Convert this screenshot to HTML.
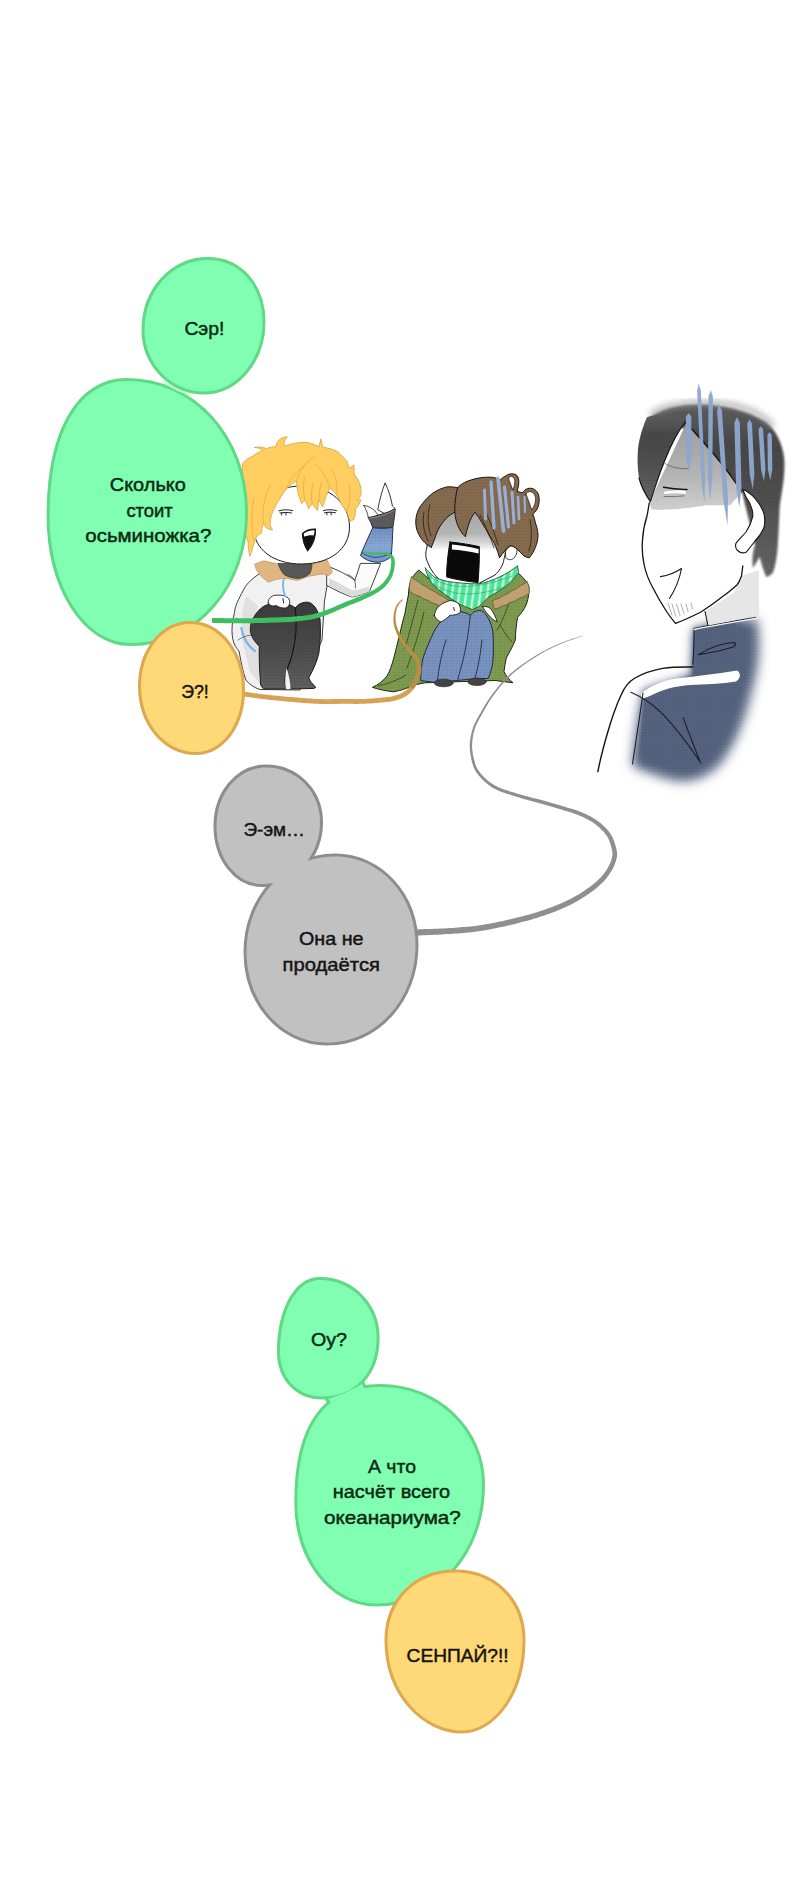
<!DOCTYPE html>
<html><head><meta charset="utf-8">
<style>
html,body{margin:0;padding:0;background:#fff;}
body{width:800px;height:1900px;overflow:hidden;font-family:"Liberation Sans",sans-serif;}
svg{display:block;}
.t{font-family:"Liberation Sans",sans-serif;stroke-width:0.45px;}
.tg{fill:#0c2a10;stroke:#0c2a10;}
.tk{fill:#141414;stroke:#141414;}
</style></head><body>
<svg width="800" height="1900" viewBox="0 0 800 1900">
<defs>
<filter id="b05" x="-10%" y="-10%" width="120%" height="120%"><feGaussianBlur stdDeviation="0.5"/></filter>
<filter id="b1" x="-10%" y="-10%" width="120%" height="120%"><feGaussianBlur stdDeviation="1"/></filter>
<filter id="b3" x="-20%" y="-20%" width="140%" height="140%"><feGaussianBlur stdDeviation="3"/></filter>
<filter id="b6" x="-30%" y="-30%" width="160%" height="160%"><feGaussianBlur stdDeviation="6"/></filter>
<pattern id="hatch" width="3" height="3" patternUnits="userSpaceOnUse"><path d="M0,0H3M0,0V3" stroke="#000" stroke-width=".5" opacity=".18"/></pattern>
</defs>
<rect width="800" height="1900" fill="#fff"/>
<!-- tails panel1 -->
<g id="char1" stroke-linejoin="round" stroke-linecap="round">
<!-- coat body -->
<path d="M259,574 C250,580 245,586 243.5,590 C238,600 235,606 234.5,612.5 C232,622 231.5,630 232.3,636 C233,643 236,648 239,651 C241,662 243,672 245.8,680 C250,685 255,688 260,689.5 L300,690 L322,640 L324.5,601 L329,574 Z" fill="#f1f1f1" stroke="#2a2a2a" stroke-width="0.9"/>
<path d="M246,596 C242,610 240,625 242,640 L250,672 L262,686 L262,640 L252,628 L258,606 Z" fill="#dcdcdc" opacity=".8"/>
<path d="M241.3,628 C243,638 248,646 254.8,651 " fill="none" stroke="#7fb2e8" stroke-width="2.2"/>
<path d="M236,618 C242,622 250,624 257,622 M238,640 C244,636 250,634 256,636" fill="none" stroke="#333" stroke-width=".6"/>
<!-- raised arm (white sleeve) -->
<path d="M327,566 C338,570 348,575 354.8,580.3 C356.8,574.5 358.8,569 360.4,563.4 L380.6,563.4 C377,573 373,582.5 369.4,591.5 C364,594 358,596 352,597 C343,594 335,590 327,585.5 Z" fill="#fbfbfb" stroke="#2a2a2a" stroke-width="0.9"/>
<path d="M329,578 C337,582 345,586.5 352,590 C358,590 364,588.5 369,586 L369.4,591.5 C364,594 358,596 352,597 L329,586 Z" fill="#dcdcdc"/>
<path d="M354.8,580.3 C353,577.5 350.5,575.5 348,574.5 M354.8,580.3 C355.3,583 355.6,585.5 355.5,588" fill="none" stroke="#2a2a2a" stroke-width=".7"/>
<!-- legs -->
<defs><linearGradient id="legs1" x1="0" y1="0" x2="0" y2="1"><stop offset="0" stop-color="#3c3c3c"/><stop offset=".5" stop-color="#4a4a4a"/><stop offset="1" stop-color="#606060"/></linearGradient></defs>
<path d="M275,603.5 C268,603 261,607 257,612.5 C252,619 250,625 250.3,630.5 C251,637 255,642 259.3,646.3 C259,658 259.5,670 260.4,680 C260,684 261,687 263.8,689 L286.3,689 C288,688.5 288.6,688.8 288.5,689 L312,688.5 C315,688.5 316,687.5 315.5,686.8 C312,684 310,681 308.8,677.8 C313,670 317,662 318.9,653 C320.5,642 320.8,630 320,619.3 C318,610 314,604 308.8,602.4 C303,601.5 298,604 295.3,608 C291,604 283,602.5 275,603.5 Z" fill="url(#legs1)" stroke="#1c1c1c" stroke-width="1"/>
<path d="M275,603.5 C268,603 261,607 257,612.5 C252,619 250,625 250.3,630.5 C251,637 255,642 259.3,646.3 C259,658 259.5,670 260.4,680 C260,684 261,687 263.8,689 L286.3,689 L312,688.5 C315,688.5 316,687.5 315.5,686.8 C312,684 310,681 308.8,677.8 C313,670 317,662 318.9,653 C320.5,642 320.8,630 320,619.3 C318,610 314,604 308.8,602.4 C303,601.5 298,604 295.3,608 C291,604 283,602.5 275,603.5 Z" fill="url(#hatch)"/>
<path d="M295.3,608 C297,622 296,640 292,655 C290,663 287.5,668 286.3,671 C285,676 284.5,683 286.3,689" fill="none" stroke="#141414" stroke-width="1.1"/>
<path d="M286.6,668 C289,675 290.5,683 290.5,689 L285.8,689 C284.8,682 285,675 286.6,668 Z" fill="#f2f2f2"/>
<!-- fist -->
<path d="M268.3,603 C268,598 272,595 277,595.2 C282,594.8 287,596 289,599 C290.5,602 289.5,606 287,607.5 C283,609 279,607 276,605.5 C273,606.5 270,606 268.3,603 Z" fill="#fff" stroke="#222" stroke-width="0.9"/>
<path d="M283,598.5 L283.6,603" stroke="#222" stroke-width="1" fill="none"/>
<!-- blue trim -->
<path d="M284,578 C282,584 283,590 285,596" fill="none" stroke="#86b6ea" stroke-width="2"/>
<!-- fur collar -->
<path d="M254.8,564 L263.8,560.8 L278.4,564 L312,564 L326.8,559.6 L330,566 L332.4,572 L329,575.6 L322,573.8 L315.5,575.2 L309,576.2 L297.5,580.4 L284,578.2 L276,579.5 L268.3,582.2 L263,578 L259.3,574.3 L256,569 Z" fill="#e0b580" stroke="#b98d58" stroke-width=".6"/>
<path d="M278.4,563.5 L312,563.5 C312,568 311,571 309.9,573.5 C306,577 301,578.5 297.5,578.4 C292,578.2 287,576.5 284,574.5 C281,571 279,567 278.4,563.5 Z" fill="#575757" stroke="#333" stroke-width=".7"/>
<!-- glove / sleeve / hand -->
<path d="M377.8,509.4 C379.5,500 382,491 385.1,482.9 C388.5,490 391,498 392.4,506 L395,508.6 L386,514 Z" fill="#fff" stroke="#222" stroke-width="0.9"/>
<path d="M363.8,505.4 C368,506 372,508 375,511 L378,515 C375,516.5 371.5,517.3 368.3,517.3 C367.5,513 366,509 363.8,505.4 Z" fill="#fff" stroke="#222" stroke-width="0.8"/>
<path d="M368.3,517.8 C371.8,517.3 375.2,516.3 378.4,515 C384.2,513.6 390,511.5 395.3,508.8 C394.8,514.8 394,520.8 393,526.8 C386.5,528.3 379.5,528.6 372.8,527.4 C371.9,525.9 371.3,524.4 371,522.9 C370,521.2 369,519.5 368.3,517.8 Z" fill="#5a5a5a" stroke="#262626" stroke-width=".9"/>
<path d="M369,518.4 C377.5,517.6 386.5,514.6 394.6,510.4" fill="none" stroke="#8a8a8a" stroke-width="1"/>
<defs><linearGradient id="slv" x1="0" y1="0" x2="0" y2="1"><stop offset="0" stop-color="#6f8fc0"/><stop offset=".55" stop-color="#88a8d8"/><stop offset="1" stop-color="#739dcf"/></linearGradient></defs>
<path d="M372.8,527.6 C379.5,528.8 386.5,528.5 393,527.2 C392.6,537 392,547 391.3,556.6 C387.5,559.8 383,561.8 378.4,562.3 C374.5,562.3 370.6,561.5 367.1,560 C364.6,558.8 362.3,557.3 360.4,555.5 C364.2,546 368.5,536.8 372.8,527.6 Z" fill="url(#slv)" stroke="#22375a" stroke-width="1"/>
<path d="M372.8,527.6 C379.5,528.8 386.5,528.5 393,527.2 C392.6,537 392,547 391.3,556.6 C387.5,559.8 383,561.8 378.4,562.3 C374.5,562.3 370.6,561.5 367.1,560 C364.6,558.8 362.3,557.3 360.4,555.5 C364.2,546 368.5,536.8 372.8,527.6 Z" fill="url(#hatch)" opacity=".7"/>
<path d="M361.6,552.4 C365,555 369.5,556.8 374,557.3 C380,557.5 386,556 391.5,553" fill="none" stroke="#22375a" stroke-width=".8"/>
<!-- face -->
<path d="M301.5,486 C331,486 349.5,504 349.5,527 C349.5,549 330,564 301.5,564 C273,564 253.5,549 253.5,527 C253.5,504 272,486 301.5,486 Z" fill="#fff" stroke="#1e1e1e" stroke-width="1"/>
<!-- hair -->
<path d="M249.9,556 C248.5,551 248,546 248.1,542 C245.5,534 243.5,526 242.9,517.5 C241.8,506 241.6,494 242,482.5 C241.8,476 242,469 242.9,463.3 C245.5,460 249,457.8 252.5,456.3 C256,453.8 259.5,451.6 263,450 C260.5,448.4 257.5,447.6 254.3,447.5 C258.5,446.6 263,447 266.5,448.6 C269.5,447.4 273,446.8 276,446.6 C276.5,443 278.3,440.2 280.5,438.8 C282.8,437.4 285.3,436.8 287.5,437 C285,438.6 283.8,441.8 284.2,445.2 L285.8,445.8 C292,443.6 298.5,442.4 305,442.3 C309.8,442.6 314.5,444.6 319,446.6 L320.8,438.8 L322.5,446.9 C327.5,447.8 332.3,449.2 336.5,451 C340.5,454 344,457.5 347,461.5 C347.9,463.8 348.5,466.1 348.8,468.5 L354,465 L354,473.8 C356.2,476.5 358,479.5 359.3,482.5 C360.8,486.5 361.4,490.6 361,494.8 C360.2,496.8 359,498.5 357.5,500 L361,500 C359.8,503.3 358,506.2 355.8,508.8 C355.6,512.4 355,515.9 354,519.3 C352.6,520.3 351.1,520.9 349.6,521 C349,518 348.1,515 347,512.3 C345.5,509.8 343.7,507.4 341.8,505.3 C340.2,501.6 338.5,498 336.5,494.8 C334.4,492 332,489.6 329.5,487.8 C328.6,490.8 327.4,493.7 326,496.5 C325,500.1 323.8,503.6 322.5,507 C321.5,504.6 320.3,502.3 319,500 C318.6,503.6 318,507.1 317.3,510.5 C315.5,508 313.7,505.6 312,503.5 C311,505.3 309.8,507.1 308.5,508.8 C307.6,505.8 306.4,502.8 305,500 C304,501.3 302.8,502.5 301.5,503.5 C300.2,500.1 299,496.6 298,493 C297.2,489 296.6,484.9 296.3,480.8 C292.5,483.3 289,486.2 285.8,489.5 C282.6,494 279.7,498.7 277,503.5 C275,506.9 273.3,510.4 271.8,514 C270.7,517.4 270.1,520.9 270,524.5 C270.5,526.5 271.4,528.3 272.6,529.8 C270.5,529.9 268.3,529.3 266.5,528 C265,526.5 264,524.6 263.5,522.5 C262.4,526 261.7,529.6 261.3,533.3 L257.8,535 C256.3,537.2 255.1,539.5 254.3,542 C253,546.5 251.8,551.5 249.9,556 Z" fill="#ffce60" stroke="#d9a238" stroke-width=".8"/>
<g fill="none" stroke="#e3a93c" stroke-width=".8" opacity=".9">
<path d="M296.3,480.8 C300,470 306,462 314,457"/>
<path d="M329.5,487.8 C327,478 322,470 315,464"/>
<path d="M336.5,494.8 C338,485 336,476 331,469"/>
<path d="M285.8,489.5 C290,480 296,472 304,466"/>
<path d="M263.5,522.5 C262,510 264,497 270,486"/>
<path d="M254.3,542 C251,528 251,512 254,498"/>
<path d="M347,512.3 C350,503 351,493 349,484"/>
<path d="M305,500 C303,492 303,484 305,477 M312,503.5 C311,496 311.5,489 313,483 M319,500 C319,493 320,487 322,482"/>
</g>
<!-- eyes -->
<path d="M278.8,510.8 C283,509.5 288.5,509.5 292.8,510.6 M280,513 C283.5,512.2 288,512.2 291.5,513 M282,513 L281.5,515 M286,512.8 L286,515" fill="none" stroke="#222" stroke-width="1"/>
<path d="M323.4,510.6 C327.5,509.4 332.5,509.4 336.5,510.6 M324.5,512.8 C328,512 332,512 335.5,512.8 M327,512.8 L326.8,514.8 M331,512.6 L331.2,514.8" fill="none" stroke="#222" stroke-width="1"/>
<!-- mouth -->
<path d="M302.4,533.3 C306,530.3 311,528.8 315.5,529 C315.8,536.5 313,545 307.6,550.8 C304.5,546 302.6,540 302.4,533.3 Z" fill="#111" stroke="#111" stroke-width="1.1"/>
<path d="M303.6,533.6 C306.8,531.3 311,530.1 314.5,530.2 C314.5,532.2 314.2,533.9 313.7,535.4 C310.3,535 306.8,535.5 304.2,536.8 Z" fill="#fff"/>
</g>

<g id="char2" stroke-linejoin="round" stroke-linecap="round">
<!-- coat -->
<path d="M418.5,570.3 C415,573 412.5,577 410.6,581.5 C409,586 408.6,590.5 408.4,595 C407,601 406,607 405,613 C403,620.5 401,628 399.4,635.5 C397.5,643 395.6,650.5 393.8,658 C392,664.5 390,671 387,676 C383,681 378,685 372.4,687.3 C379,689.5 386,691 393.8,691.8 C401,690.5 408,688 414,685 L425.3,682.8 L495,680.5 L513,682.8 C509,679.5 506,676 504,671.5 C504.5,667 505.3,662.5 506.3,658 C509.5,652 513,646 515.3,640 C515.5,632.5 516.3,625 517.5,617.5 C521,613.5 524.5,609 526.5,604 C528.5,598 529.3,592 528.8,586 C526,580.5 522,576 517.5,572.5 L480,590 L440,588 Z" fill="#7f9b50" stroke="#1f2a14" stroke-width="1"/>
<path d="M418.5,570.3 C415,573 412.5,577 410.6,581.5 C409,586 408.6,590.5 408.4,595 C407,601 406,607 405,613 C403,620.5 401,628 399.4,635.5 C397.5,643 395.6,650.5 393.8,658 C392,664.5 390,671 387,676 C383,681 378,685 372.4,687.3 C379,689.5 386,691 393.8,691.8 C401,690.5 408,688 414,685 L425.3,682.8 L495,680.5 L513,682.8 C509,679.5 506,676 504,671.5 C504.5,667 505.3,662.5 506.3,658 C509.5,652 513,646 515.3,640 C515.5,632.5 516.3,625 517.5,617.5 C521,613.5 524.5,609 526.5,604 C528.5,598 529.3,592 528.8,586 C526,580.5 522,576 517.5,572.5 L480,590 L440,588 Z" fill="url(#hatch)" opacity=".8"/>
<path d="M418,600 C414,615 410,632 405,648 M424,612 C420,630 414,650 407,668 M500,625 C504,632 508,638 512,642 M510,600 C506,612 502,622 497,630 M378,686 C388,684 398,680 406,675" fill="none" stroke="#263318" stroke-width=".7"/>
<!-- fur trim -->
<path d="M411.5,577 C414,579.5 417,580.5 419.5,582.5 C421.5,585 425,585.5 427.5,587.5 C430,590 433.5,590.5 436,592.5 C438.5,595 442,595.5 444.5,597.5 C447,600 451,600.5 455,602.5 L452.5,610.5 C449,610.8 446.5,608 443.5,607.6 C440,607.4 438,604.4 435,603.8 C431.5,603.5 429.5,600.4 426.5,599.8 C423,599.4 421,596.4 418,595.8 C414.5,595.3 412.5,592.4 409.5,591.8 C409,586.5 409.8,581.5 411.5,577 Z" fill="#bfa070" stroke="#6b5330" stroke-width=".8"/>
<path d="M527,581.5 C524.5,584.5 521,584.8 518.5,587 C516,589.6 512.5,589.8 510,592 C507.5,594.5 504,594.6 501.5,596.6 C499,598.8 495.5,599 492,601 L494.5,609 C498,609 500.5,606.3 503.5,605.8 C507,605.5 509,602.5 512,602 C515.5,601.6 517.5,598.5 520.5,598 C524,597.5 526,594.6 529,594 C529.8,589.5 529,585.5 527,581.5 Z" fill="#bfa070" stroke="#6b5330" stroke-width=".8"/>
<!-- jeans -->
<path d="M450,613 C444,617 438,624 434.3,631 C430,640 426,649 423,658 C421.5,665 420.7,673 420.8,680.5 L436.5,682.8 L456.8,680.5 L468,679.4 L488.3,678.3 C490.5,673 492,668 492.8,662.5 C493.6,652 493.6,641 492.8,631 C491,622 487,614 481.5,610.8 C477,609.5 473,612 470.3,615.3 C464,611 456,610.5 450,613 Z" fill="#7a94c2" stroke="#1f2a44" stroke-width="1"/>
<path d="M450,613 C444,617 438,624 434.3,631 C430,640 426,649 423,658 C421.5,665 420.7,673 420.8,680.5 L436.5,682.8 L456.8,680.5 L468,679.4 L488.3,678.3 C490.5,673 492,668 492.8,662.5 C493.6,652 493.6,641 492.8,631 C491,622 487,614 481.5,610.8 C477,609.5 473,612 470.3,615.3 C464,611 456,610.5 450,613 Z" fill="url(#hatch)"/>
<path d="M470.3,615.3 C469,630 466.5,645 463.5,658 C461.5,666 459.5,673 457.9,679.4 M446,640 C442,652 439,666 437.5,680 M482,640 C480.5,654 478,668 475,678" fill="none" stroke="#1f2a44" stroke-width=".9"/>
<!-- shoes -->
<ellipse cx="443.7" cy="683" rx="9.5" ry="3.8" fill="#444" stroke="#222" stroke-width=".6"/>
<ellipse cx="477" cy="681.8" rx="9.2" ry="3.8" fill="#444" stroke="#222" stroke-width=".6"/>
<!-- face -->
<defs><linearGradient id="fg2" x1="0" y1="0" x2="0" y2="1"><stop offset="0" stop-color="#a0a0a0"/><stop offset=".38" stop-color="#b4b4b4"/><stop offset=".5" stop-color="#dcdcdc"/><stop offset=".58" stop-color="#fff"/></linearGradient></defs>
<path d="M428,500 L500,500 C505,535 507,550 504,559 C503,566 499,571 495,575 L470,588 L440,580 C434,575 429.5,568.3 426,557.8 C425.5,553 426,550 426.9,547.3 Z" fill="url(#fg2)" stroke="#1e1e1e" stroke-width="1"/>
<!-- ear -->
<path d="M505.6,551 C508,546.5 513,544 516,546.5 C518,550 517,555 513.5,558.5 C511,560.3 508,560 506,558 Z" fill="#fff" stroke="#1e1e1e" stroke-width=".9"/>
<!-- mouth -->
<path d="M450,542 C460,543 470,544.6 479.3,546.6 C479.6,558 479,571 478,582.6 C467,581.5 456,579.5 446.6,577 C446.6,565 448,553 450,542 Z" fill="#0a0a0a" stroke="#0a0a0a" stroke-width="1"/>
<path d="M452,544.6 C461,545.6 470,547 478.6,549 L478.6,553.6 C469.5,551.4 460.5,550.2 451.8,549.6 Z" fill="#fff"/>
<!-- scarf -->
<defs><pattern id="stripe" width="7" height="10" patternUnits="userSpaceOnUse" patternTransform="rotate(8)"><rect width="7" height="10" fill="#4fe29a"/><rect x="4.2" width="2.2" height="10" fill="#c9ffe2"/></pattern></defs>
<path d="M425.3,568 C428,571.5 431,574.5 434.3,577 C438.5,579 443,580.5 447.8,581.5 C458,583 469,584 479.3,583.8 C486,582.5 493,580 499.5,577 C506,574 512,570 517.5,565.8 L518.6,572.5 C515,577.5 511,582 506.3,586 C500.5,590 494.5,594 488.3,597.3 L479.3,606.3 L472.5,609.6 C468,608 463.5,606 459,604 C454.5,601 450,598 445.5,595 C441,591.5 436.5,588 432,583.8 C429,579 426.5,573.5 425.3,568 Z" fill="url(#stripe)" stroke="#1d5a36" stroke-width=".9"/>
<path d="M428,575 C444,588 470,592 512,576 M432,583 C450,596 476,598 506,586" fill="none" stroke="#2aa868" stroke-width=".8" opacity=".8"/>
<!-- hands -->
<path d="M434.3,615.3 C435,611.5 436.5,608.5 438.8,606.3 C442,603.5 446,601.5 450,600.6 C453.5,600.6 456.5,602 459,604 C460.5,607 460.8,610 460,613 C457,614.5 453.5,615.3 450,615.3 C447,618 444,620.5 441,622 C438,621 435.5,618.5 434.3,615.3 Z" fill="#fff" stroke="#1e1e1e" stroke-width=".9"/>
<path d="M453.5,607.5 L454.5,610.5" stroke="#933" stroke-width="1.2"/>
<path d="M482.6,606.3 C485.5,606 488.5,607 490.5,608.5 C493.5,612.5 496,617.5 497.3,622 C494,620.5 491,618 488.5,615 C486,612.5 484,609.5 482.6,606.3 Z" fill="#fff" stroke="#1e1e1e" stroke-width=".9"/>
<!-- hair -->
<path d="M431.3,547.3 C428,545.5 425,543 422.5,540.3 C419.5,536.5 417.5,532.5 416.4,528 C415.6,524 415.6,520 416.4,515.8 C417.5,511 419.5,507 422.5,503.5 C425.5,499.5 429,496 433,493 C437.5,490 442,488 447,486.9 C450.5,486.6 454,486.9 457.5,487.8 L470,492 L476,512 L454.9,512.3 C452,513.5 449.5,515.5 447,517.5 C444.5,520 442,523 440,526.3 C438,530 436,534 434.8,538.5 C433.5,541.5 432.3,544.5 431.3,547.3 Z" fill="#856b4f" stroke="#1c140c" stroke-width="1"/>
<path d="M431.3,547.3 C428,545.5 425,543 422.5,540.3 C419.5,536.5 417.5,532.5 416.4,528 C415.6,524 415.6,520 416.4,515.8 C417.5,511 419.5,507 422.5,503.5 C425.5,499.5 429,496 433,493 C437.5,490 442,488 447,486.9 C450.5,486.6 454,486.9 457.5,487.8 L470,492 L476,512 L454.9,512.3 C452,513.5 449.5,515.5 447,517.5 C444.5,520 442,523 440,526.3 C438,530 436,534 434.8,538.5 C433.5,541.5 432.3,544.5 431.3,547.3 Z" fill="url(#hatch)" opacity=".7"/>
<path d="M424,512 C422,522 424,532 428,541 M430,505 C427,515 427.5,526 431,536" fill="none" stroke="#1c140c" stroke-width=".7"/>
<path d="M457.5,487.8 C459.5,485.5 462,483.8 464.5,482.5 C469,480.5 473.5,479 478.5,478.1 C483,477.3 488,477 492.5,477.3 C495.5,477.8 498,478.7 500.4,479.9 C501.5,478.5 503,477.3 504.8,476.4 C507,474.8 509.5,473.9 511.8,473.8 C514,473.9 516,474.5 517,475.5 C518.5,477.5 519,480 518.8,482.5 C518.6,485.5 518,488.5 517,491.3 L522.3,493 C523.5,491 525.5,489.5 527.5,488.6 C530,487.9 532.5,488.2 534.5,489.5 C537,491 538.5,493.5 538.9,496.5 C539.5,500 539.2,503.5 538,507 C537,510 535,512.5 532.8,514 C534,517 535,520 535.4,522.8 C536.8,526.5 537.7,530.5 538,535 C538,539.5 537,543.5 535.4,547.3 C534,551 532,554.5 529.3,557.8 C527.5,557.5 525.5,557 524,556 C522,554 519.5,551.5 517,549 C515,547.5 512.5,546 510,545.5 C508,547 506.3,548.8 504.8,550.8 C503,553 501.3,555.3 499.5,557.8 C498.5,554 497.3,550.5 496,547.3 C495,544.8 493.8,542.5 492.5,540.3 L489,535 C487,531 484.5,526.5 482,522.8 C480,519 477.5,515.5 475,512.3 C473.6,514 472.5,515.6 471.5,517.5 C470,520.3 469,523.3 468,526.3 C467,529.8 466,533.3 465.4,536.8 C463.8,535.3 462.3,533.5 461,531.5 C458.6,527.8 456.8,523.6 455.8,519.3 C454.9,514.6 454.6,510 454.9,505.3 C455.2,499.3 456.1,493.3 457.5,487.8 Z" fill="#856b4f" stroke="#1c140c" stroke-width="1"/>
<path d="M457.5,487.8 C459.5,485.5 462,483.8 464.5,482.5 C469,480.5 473.5,479 478.5,478.1 C483,477.3 488,477 492.5,477.3 C495.5,477.8 498,478.7 500.4,479.9 C501.5,478.5 503,477.3 504.8,476.4 C507,474.8 509.5,473.9 511.8,473.8 C514,473.9 516,474.5 517,475.5 C518.5,477.5 519,480 518.8,482.5 C518.6,485.5 518,488.5 517,491.3 L522.3,493 C523.5,491 525.5,489.5 527.5,488.6 C530,487.9 532.5,488.2 534.5,489.5 C537,491 538.5,493.5 538.9,496.5 C539.5,500 539.2,503.5 538,507 C537,510 535,512.5 532.8,514 C534,517 535,520 535.4,522.8 C536.8,526.5 537.7,530.5 538,535 C538,539.5 537,543.5 535.4,547.3 C534,551 532,554.5 529.3,557.8 C527.5,557.5 525.5,557 524,556 C522,554 519.5,551.5 517,549 C515,547.5 512.5,546 510,545.5 C508,547 506.3,548.8 504.8,550.8 C503,553 501.3,555.3 499.5,557.8 C498.5,554 497.3,550.5 496,547.3 C495,544.8 493.8,542.5 492.5,540.3 L489,535 C487,531 484.5,526.5 482,522.8 C480,519 477.5,515.5 475,512.3 C473.6,514 472.5,515.6 471.5,517.5 C470,520.3 469,523.3 468,526.3 C467,529.8 466,533.3 465.4,536.8 C463.8,535.3 462.3,533.5 461,531.5 C458.6,527.8 456.8,523.6 455.8,519.3 C454.9,514.6 454.6,510 454.9,505.3 C455.2,499.3 456.1,493.3 457.5,487.8 Z" fill="url(#hatch)" opacity=".7"/>
<path d="M509,480 C508,477.5 509.5,476.2 511.5,476.4 C513.8,476.8 515,479 514.8,482 C514.6,485 513.8,487.5 513,490 Z" fill="#fff" stroke="#1c140c" stroke-width=".7"/>
<path d="M526,494 C526.5,492.3 528.5,491.4 530.5,491.7 C533.5,492.3 535.5,495 535.6,498.5 C535.7,502.5 534.3,506.5 531.8,510 C530,505 528,499 526,494 Z" fill="#fff" stroke="#1c140c" stroke-width=".7"/>
<path d="M480,515 C485,525 490,536 494,548 M486,513 C491,523 495,534 498,545 M530,520 C532,530 532,541 529,551" fill="none" stroke="#1c140c" stroke-width=".7"/>
<!-- gloom lines -->
<g stroke="#9db9e8" stroke-linecap="round" opacity=".88" fill="none">
<path d="M484.5,490 L485.5,519" stroke-width="3"/>
<path d="M491,482 L494,528" stroke-width="3.4"/>
<path d="M498,478 L503.5,531" stroke-width="3.6"/>
<path d="M504.5,487 L508.5,527" stroke-width="3.2"/>
<path d="M512,492 L514,523" stroke-width="3"/>
<path d="M518,497 L519,519" stroke-width="2.6"/>
<path d="M524.5,497 L525,512" stroke-width="2.2"/>
</g>
</g>

<g id="man" stroke-linejoin="round" stroke-linecap="round">
<defs>
<linearGradient id="mhair" x1="0" y1="0" x2="0" y2="1"><stop offset="0" stop-color="#5e5e5e"/><stop offset=".25" stop-color="#474747"/><stop offset=".6" stop-color="#515151"/><stop offset="1" stop-color="#666"/></linearGradient>
<linearGradient id="mfore" x1="0" y1="0" x2="0" y2="1"><stop offset="0" stop-color="#9d9d9d"/><stop offset=".6" stop-color="#b4b4b4"/><stop offset="1" stop-color="#cfcfcf"/></linearGradient>
<clipPath id="mclip"><rect x="560" y="360" width="240" height="440"/></clipPath>
</defs>
<!-- body (blurred edges) -->
<g clip-path="url(#mclip)">
<path d="M694,629 L756,618 C762,640 758,670 752,690 C746,715 738,740 722,762 C708,778 690,784 672,780 C656,776 642,770 632,766 C634,742 638,716 643,692 C650,688 660,685 668,683.5 C676,681 686,678 692,676 Z" fill="#55647f" filter="url(#b6)"/>
<path d="M694,629 L736,621.5 L734,672 L700,750 L640,754 L644.5,692 C652,688 662,684.5 668,683.5 L692.5,676 Z" fill="#55647f" filter="url(#b1)"/><path d="M694,629 L744,620 L744,672 L712,752 L690,770 L640,762 L644.5,692 L692.5,676 Z" fill="#55647f" filter="url(#b3)" opacity=".8"/>
<path d="M694,629 L756,618 C762,640 758,670 752,690 C746,715 738,740 722,762 C708,778 690,784 672,780 C656,776 642,770 632,766 C634,742 638,716 643,692 L692,676 Z" fill="url(#hatch)" opacity=".7"/>
</g>
<!-- white shoulder highlight -->
<path d="M641,693.5 C650,686 662,681 676,678.5 C694,676.5 716,674 737,670.5 C741,673 741,678 736,681.5 C722,684 704,684.5 690,685 C676,686 664,689 654,694 C649,696.5 645,698 641,698.5 Z" fill="#fff" filter="url(#b05)"/>
<!-- shoulder line -->
<path d="M597.9,771.5 C600.5,758 604,745 607.5,733 C611.5,719 616,706 621.3,694.5 C624.5,687 629,681.5 635,678 C643,673.5 652,670.3 662.5,668.4 C672,667 682,666.8 692.8,667" fill="none" stroke="#141414" stroke-width="1.4"/>
<path d="M630.9,692.3 C642,697 653,704.5 662.5,713.8 C676,728 689,745 701,763.3 M683.1,717.9 C688.5,731.5 694,746 699.6,760.5 M643,693 C640,715 636,740 632.5,764" fill="none" stroke="#1a1f2b" stroke-width="1.1"/>
<!-- collar -->
<path d="M694,628.5 C714,624.5 736,621 756,617.5 M694,628.5 C694.3,640 693.8,652 692.8,664.3 M698.3,654.6 C709,648 722,643.5 733,642.5 C736.5,643 736,645.5 733,647 C722,650.5 709,653 698.3,654.6 Z" fill="none" stroke="#1a1f2b" stroke-width="1.1"/>
<!-- neck -->
<path d="M705,611.5 L734,592.8 L741.5,576 L758.8,570 L759,615.5 L707.9,625.4 Z" fill="#e6e6e6"/>
<path d="M705,611.5 L707.9,625.4" stroke="#1a1a1a" stroke-width="1.1" fill="none"/>
<path d="M694,629.5 C714,625.5 736,622 757,618.2" fill="none" stroke="#fff" stroke-width="1.3" opacity=".9"/>
<!-- hair back mass -->
<path d="M647,420 C655,412 668,407 684,405 C712,402 745,408 766,422 C776,430 783,444 784.3,460 C785,476 782,492 779.8,505 C779,520 778.5,536 777.5,550 C776.5,559 775,567 773,572.5 C771,575 768.5,576.8 766.3,577 C763.5,571 761.5,564 759.5,556.8 C757.5,561 755,565 752.8,568 C752,560 752.5,552 755,545 L742,492 L690,430 Z" fill="url(#mhair)" filter="url(#b1)"/>
<path d="M652,414 C662,406 690,401 716,403 C740,405 760,412 772,425" fill="none" stroke="#9a9a9a" stroke-width="5" filter="url(#b3)" opacity=".8"/>
<!-- forehead shading -->
<path d="M686,424 L722,465 L742,492 L730,505.5 L706,505.5 C688,508.5 668,510.5 651.5,509.8 L649.3,502.8 Z" fill="url(#mfore)"/>
<!-- face -->
<path d="M651.5,509.8 C668,510.5 688,508.5 706,505.5 L730,505.5 L742,494 L746,556 L741.5,576 C740,580 738.5,583 737,585 C732,589.5 727,593.5 722,597 C715,602.5 708,607.5 701,612 C693,616 684.5,620 675.5,623.4 C671.5,618.5 668,614 665,609 C660.5,602 656.5,595 653,588 C648.5,580 645.5,572 644,564 C642.3,556 641.8,548 642.5,540 C643,531.5 644.5,523.5 647,516 C647.8,511.5 648.6,507 649.3,502.8 Z" fill="#fff"/>
<path d="M649.3,502.8 C648.5,507.5 647.8,511.5 647,516 C644.5,523.5 643,531.5 642.5,540 C641.8,548 642.3,556 644,564 C645.5,572 648.5,580 653,588 C656.5,595 660.5,602 665,609 C668,614 671.5,618.5 675.5,623.4 C684.5,620 693,616 701,612 C708,607.5 715,602.5 722,597 C727,593.5 732,589.5 737,585 C738.5,583 740,580 741.5,576 L742.8,566" fill="none" stroke="#141414" stroke-width="1.3"/>
<!-- stubble -->
<path d="M668,603 L672,615 M672,604 L676,616.5 M676.5,604 L680,615.5 M681,604 L684,613.5 M686,604 L688,611.5 M691,603 L692.5,609" fill="none" stroke="#777" stroke-width=".6"/>
<!-- smile -->
<path d="M660.5,576.6 C668,575.5 675.5,572.5 681.5,568.5 C679.5,579.5 675,590 669.5,598.5" fill="none" stroke="#141414" stroke-width="1.1"/>
<!-- eye / brow -->
<path d="M664,494 C671,493 679,493 686,493.8 L685.5,490.3 C678.5,490.3 671.5,490.6 664.5,491.5 Z" fill="#fff"/>
<path d="M663.5,487.3 C671,488.8 679,489.6 687,489.4" fill="none" stroke="#141414" stroke-width="1.5"/>
<path d="M664,496.5 C671,496.8 678,496.5 684,495.8 M665,463.5 C672,467.5 680,469.3 689,468.6" fill="none" stroke="#555" stroke-width=".7"/>
<!-- front hair lock -->
<path d="M685.3,421.8 C678,431 671,445 665,460 C659,474.5 654.5,488.5 650.4,501.6 C645,494 641,486 639,478 C637.3,468 637.3,458 638,448.8 C639.5,437 643,426 647,417.3 C658,413 672,414 685.3,421.8 Z" fill="url(#mhair)" filter="url(#b05)"/>
<path d="M685.3,421.8 C678,431 671,445 665,460 C659,474.5 654.5,488.5 650.4,501.6 M639,478 C641,486 645,494 650.4,501.6 M686,423 C700,437 722,462 742,492" fill="none" stroke="#141414" stroke-width="1.1"/>
<path d="M647,420 C655,412 668,407 684,405 C712,402 745,408 766,422 C776,430 783,444 784.3,460 C785,476 782,492 779.8,505 C779,520 778.5,536 777.5,550 C776.5,559 775,567 773,572.5 L755,545 L742,492 L686,423 C678,431 671,445 665,460 L650.4,501.6 C645,494 641,486 639,478 C637.3,468 637.3,458 638,448.8 Z" fill="url(#hatch)" opacity=".6"/>
<!-- ear -->
<path d="M742.6,489.3 C747,491 751.5,494.5 755,498.3 C759,503 762.5,508.5 764,514 C765,518.5 765,523 764,527.5 C762,532.5 759,537 755,541 C752,545 749,549 746,552.3 C743,553.5 739.5,552.5 737,550 C735.5,548 735.3,545.5 735.9,543.3 C739,539.5 742.5,536 746,532 C749,527.5 751.5,522 752.8,516.3 C753,510 750.5,503 746,497 Z" fill="#fff" stroke="#141414" stroke-width="1.1"/>
<!-- gloom lines -->
<g fill="#8ea6cf" opacity=".96">
<path d="M688.6,413.0 L685.9,416.5 L686.1,459.0 L688.8,472.0 L691.5,459.0 L691.3,416.5Z"/>
<path d="M698.6,383.5 L697.1,390.8 L701.2,476.8 L704.4,503.0 L705.0,476.6 L700.8,390.6Z"/>
<path d="M710.7,390.0 L708.5,396.6 L708.0,476.2 L710.0,500.5 L712.4,476.2 L712.9,396.6Z"/>
<path d="M719.0,403.5 L717.1,411.0 L723.2,498.8 L727.5,525.5 L728.0,498.5 L721.9,410.7Z"/>
<path d="M737.0,417.0 L734.4,422.5 L736.1,487.7 L739.3,507.5 L741.5,487.5 L739.8,422.4Z"/>
<path d="M749.4,419.5 L747.2,423.8 L749.7,474.2 L752.8,489.5 L754.4,474.0 L752.0,423.6Z"/>
<path d="M760.6,426.0 L758.5,429.5 L761.0,469.4 L764.0,481.5 L765.5,469.1 L763.1,429.2Z"/>
<path d="M769.6,432.0 L767.4,434.9 L767.9,469.7 L770.3,480.3 L772.3,469.6 L771.8,434.9Z"/>
</g>
</g>

<path d="M416.1,935.5 L417.8,935.5 L419.8,935.4 L422.3,935.3 L425.0,935.2 L428.0,935.1 L431.2,934.9 L434.4,934.8 L437.8,934.7 L441.1,934.5 L444.3,934.3 L447.3,934.1 L450.2,934.0 L452.9,933.8 L455.5,933.6 L458.1,933.4 L460.7,933.2 L463.2,933.0 L465.8,932.7 L468.3,932.5 L470.9,932.2 L473.4,931.9 L476.1,931.6 L478.7,931.2 L481.4,930.8 L484.2,930.4 L487.0,929.9 L489.9,929.4 L492.8,928.8 L495.7,928.2 L498.6,927.6 L501.5,927.0 L504.4,926.4 L507.3,925.7 L510.1,925.0 L512.9,924.4 L515.7,923.7 L518.4,923.0 L521.1,922.3 L523.8,921.6 L526.4,920.9 L529.1,920.2 L531.7,919.4 L534.3,918.6 L536.9,917.9 L539.4,917.1 L541.9,916.2 L544.4,915.4 L546.9,914.5 L549.3,913.7 L551.7,912.8 L554.1,911.9 L556.5,910.9 L558.8,910.0 L561.1,909.0 L563.4,908.0 L565.6,907.0 L567.8,906.0 L570.0,905.0 L572.1,903.9 L574.2,902.8 L576.3,901.7 L578.3,900.5 L580.4,899.3 L582.4,898.0 L584.4,896.8 L586.3,895.5 L588.2,894.3 L590.0,893.0 L591.7,891.7 L593.4,890.4 L595.0,889.2 L596.6,887.9 L598.0,886.7 L599.4,885.5 L600.7,884.3 L602.0,883.1 L603.2,881.9 L604.3,880.7 L605.3,879.5 L606.4,878.3 L607.3,877.1 L608.3,875.8 L609.1,874.6 L610.0,873.3 L610.8,872.1 L611.6,870.7 L612.4,869.4 L613.1,868.0 L613.7,866.7 L614.3,865.3 L614.9,864.0 L615.4,862.6 L615.8,861.3 L616.2,860.0 L616.5,858.7 L616.8,857.4 L617.0,856.2 L617.1,854.9 L617.1,853.7 L617.0,852.6 L616.9,851.4 L616.7,850.4 L616.5,849.3 L616.2,848.3 L616.0,847.3 L615.7,846.3 L615.4,845.3 L615.1,844.4 L614.9,843.4 L614.5,842.4 L614.2,841.5 L613.9,840.5 L613.5,839.5 L613.1,838.6 L612.6,837.6 L612.2,836.6 L611.6,835.7 L611.0,834.7 L610.4,833.7 L609.7,832.7 L609.0,831.8 L608.2,830.8 L607.4,829.8 L606.5,828.8 L605.6,827.8 L604.6,826.9 L603.6,825.9 L602.6,825.0 L601.5,824.0 L600.4,823.1 L599.3,822.2 L598.2,821.4 L597.1,820.6 L595.9,819.8 L594.8,819.0 L593.6,818.2 L592.4,817.5 L591.1,816.8 L589.8,816.1 L588.5,815.4 L587.1,814.7 L585.7,814.0 L584.3,813.4 L582.8,812.7 L581.2,812.1 L579.5,811.4 L577.8,810.8 L576.1,810.2 L574.3,809.6 L572.5,809.0 L570.6,808.5 L568.8,807.9 L566.9,807.4 L565.1,806.8 L563.3,806.3 L561.5,805.7 L559.8,805.2 L558.0,804.7 L556.3,804.2 L554.5,803.7 L552.8,803.2 L551.0,802.7 L549.3,802.2 L547.6,801.7 L545.8,801.3 L544.0,800.8 L542.3,800.3 L540.5,799.8 L538.7,799.3 L536.8,798.8 L535.0,798.4 L533.1,797.9 L531.3,797.4 L529.4,796.9 L527.5,796.4 L525.7,795.9 L523.9,795.5 L522.0,795.0 L520.3,794.4 L518.5,793.9 L516.7,793.4 L514.9,792.8 L513.1,792.3 L511.2,791.7 L509.4,791.2 L507.7,790.6 L505.9,790.1 L504.2,789.5 L502.6,788.9 L501.0,788.3 L499.5,787.7 L498.2,787.1 L496.9,786.5 L495.6,785.8 L494.5,785.2 L493.4,784.6 L492.4,783.9 L491.4,783.3 L490.4,782.6 L489.5,781.9 L488.6,781.2 L487.7,780.5 L486.9,779.7 L486.0,778.9 L485.1,778.1 L484.3,777.3 L483.4,776.5 L482.6,775.6 L481.8,774.8 L481.1,773.9 L480.3,773.0 L479.6,772.1 L479.0,771.2 L478.3,770.2 L477.7,769.3 L477.2,768.4 L476.7,767.4 L476.2,766.4 L475.8,765.4 L475.4,764.4 L475.1,763.3 L474.8,762.3 L474.5,761.2 L474.2,760.1 L473.9,759.0 L473.7,757.9 L473.5,756.8 L473.2,755.8 L473.0,754.7 L472.8,753.7 L472.7,752.6 L472.5,751.6 L472.4,750.6 L472.3,749.5 L472.2,748.5 L472.1,747.4 L472.1,746.4 L472.1,745.3 L472.1,744.2 L472.2,743.1 L472.2,741.9 L472.4,740.7 L472.5,739.5 L472.7,738.3 L472.9,737.0 L473.1,735.8 L473.3,734.5 L473.6,733.3 L473.9,732.0 L474.3,730.8 L474.6,729.5 L475.0,728.3 L475.4,727.2 L475.8,726.1 L476.3,724.9 L476.8,723.8 L477.3,722.8 L477.9,721.7 L478.5,720.5 L479.1,719.4 L479.7,718.2 L480.4,717.0 L481.1,715.8 L481.8,714.5 L482.6,713.1 L483.4,711.7 L484.2,710.2 L485.0,708.8 L485.9,707.2 L486.8,705.7 L487.7,704.2 L488.6,702.6 L489.6,701.1 L490.6,699.5 L491.6,698.0 L492.7,696.5 L493.8,695.0 L494.9,693.5 L496.1,691.9 L497.3,690.4 L498.5,688.8 L499.7,687.3 L501.0,685.7 L502.3,684.2 L503.6,682.7 L504.9,681.3 L506.2,679.9 L507.5,678.5 L508.8,677.2 L510.2,675.9 L511.5,674.7 L512.9,673.5 L514.3,672.3 L515.7,671.2 L517.1,670.0 L518.5,668.9 L520.0,667.8 L521.4,666.7 L522.9,665.6 L524.4,664.5 L525.9,663.4 L527.4,662.3 L528.9,661.3 L530.5,660.2 L532.1,659.2 L533.7,658.2 L535.3,657.2 L536.9,656.2 L538.5,655.2 L540.1,654.3 L541.7,653.3 L543.2,652.4 L544.8,651.6 L546.4,650.7 L547.9,649.9 L549.5,649.1 L551.1,648.4 L552.6,647.6 L554.2,646.9 L555.8,646.1 L557.3,645.4 L558.9,644.7 L560.5,644.0 L562.1,643.4 L563.8,642.7 L565.6,642.0 L567.5,641.3 L569.4,640.6 L571.4,639.9 L573.3,639.2 L575.1,638.6 L576.9,638.0 L578.5,637.5 L579.9,637.0 L581.1,636.6 L582.1,636.2 L581.9,635.8 L580.9,636.1 L579.7,636.5 L578.3,636.9 L576.7,637.5 L574.9,638.0 L573.1,638.6 L571.2,639.3 L569.2,639.9 L567.3,640.6 L565.4,641.3 L563.6,642.0 L561.9,642.6 L560.2,643.3 L558.6,644.0 L557.0,644.7 L555.4,645.3 L553.8,646.1 L552.2,646.8 L550.7,647.5 L549.1,648.3 L547.5,649.1 L545.9,649.9 L544.3,650.7 L542.8,651.6 L541.2,652.4 L539.5,653.3 L537.9,654.3 L536.3,655.2 L534.7,656.2 L533.1,657.2 L531.5,658.2 L529.9,659.3 L528.3,660.3 L526.7,661.4 L525.2,662.4 L523.6,663.5 L522.1,664.6 L520.6,665.7 L519.2,666.7 L517.7,667.8 L516.3,669.0 L514.8,670.1 L513.4,671.3 L512.0,672.4 L510.6,673.6 L509.2,674.9 L507.8,676.2 L506.5,677.5 L505.1,678.8 L503.8,680.3 L502.4,681.7 L501.1,683.2 L499.8,684.7 L498.5,686.2 L497.2,687.8 L496.0,689.4 L494.8,690.9 L493.6,692.5 L492.4,694.0 L491.3,695.5 L490.2,697.0 L489.2,698.6 L488.1,700.1 L487.1,701.7 L486.2,703.2 L485.2,704.8 L484.3,706.3 L483.4,707.8 L482.6,709.3 L481.7,710.8 L480.9,712.2 L480.2,713.5 L479.4,714.8 L478.7,716.1 L478.0,717.3 L477.4,718.4 L476.7,719.6 L476.1,720.7 L475.5,721.8 L475.0,723.0 L474.4,724.1 L473.9,725.3 L473.5,726.4 L473.0,727.7 L472.6,728.9 L472.2,730.2 L471.8,731.5 L471.5,732.7 L471.2,734.0 L470.9,735.4 L470.7,736.6 L470.4,737.9 L470.3,739.2 L470.1,740.5 L470.0,741.7 L469.8,742.9 L469.8,744.1 L469.7,745.3 L469.7,746.4 L469.7,747.5 L469.8,748.6 L469.9,749.7 L470.0,750.8 L470.1,751.9 L470.2,753.0 L470.4,754.1 L470.6,755.1 L470.8,756.2 L471.0,757.3 L471.2,758.4 L471.4,759.6 L471.7,760.7 L471.9,761.8 L472.2,763.0 L472.6,764.1 L472.9,765.2 L473.3,766.4 L473.8,767.5 L474.3,768.6 L474.8,769.6 L475.4,770.7 L476.0,771.7 L476.7,772.7 L477.4,773.7 L478.1,774.7 L478.9,775.7 L479.7,776.6 L480.5,777.6 L481.4,778.5 L482.2,779.4 L483.1,780.2 L484.0,781.1 L484.9,781.9 L485.8,782.7 L486.8,783.5 L487.7,784.2 L488.7,785.0 L489.7,785.7 L490.7,786.5 L491.8,787.2 L493.0,787.9 L494.2,788.6 L495.5,789.2 L496.8,789.9 L498.3,790.6 L499.9,791.2 L501.5,791.9 L503.2,792.5 L504.9,793.1 L506.7,793.7 L508.5,794.3 L510.3,794.8 L512.1,795.4 L513.9,796.0 L515.7,796.5 L517.5,797.1 L519.3,797.6 L521.1,798.2 L523.0,798.7 L524.8,799.2 L526.7,799.7 L528.5,800.2 L530.4,800.7 L532.2,801.2 L534.1,801.7 L535.9,802.2 L537.7,802.7 L539.5,803.2 L541.3,803.7 L543.1,804.2 L544.8,804.7 L546.6,805.2 L548.3,805.7 L550.1,806.2 L551.8,806.7 L553.5,807.2 L555.3,807.7 L557.0,808.2 L558.7,808.7 L560.5,809.3 L562.2,809.8 L564.0,810.4 L565.8,810.9 L567.7,811.5 L569.5,812.1 L571.3,812.6 L573.1,813.2 L574.8,813.8 L576.5,814.4 L578.2,815.0 L579.7,815.7 L581.2,816.3 L582.7,816.9 L584.1,817.6 L585.4,818.2 L586.7,818.9 L587.9,819.6 L589.1,820.2 L590.3,820.9 L591.5,821.6 L592.6,822.3 L593.7,823.1 L594.7,823.8 L595.8,824.6 L596.8,825.4 L597.8,826.3 L598.8,827.1 L599.8,828.0 L600.7,828.9 L601.6,829.8 L602.5,830.7 L603.4,831.6 L604.2,832.6 L604.9,833.5 L605.6,834.4 L606.3,835.3 L606.9,836.1 L607.4,836.9 L607.9,837.8 L608.3,838.6 L608.7,839.5 L609.1,840.3 L609.4,841.2 L609.8,842.0 L610.1,842.9 L610.3,843.8 L610.6,844.7 L610.9,845.6 L611.1,846.6 L611.4,847.5 L611.6,848.4 L611.9,849.4 L612.1,850.2 L612.2,851.1 L612.4,852.0 L612.4,852.9 L612.5,853.8 L612.5,854.7 L612.4,855.6 L612.2,856.6 L612.0,857.6 L611.7,858.7 L611.4,859.9 L611.0,861.0 L610.5,862.2 L610.0,863.4 L609.4,864.7 L608.8,865.9 L608.2,867.1 L607.5,868.3 L606.8,869.5 L606.0,870.7 L605.2,871.8 L604.4,872.9 L603.5,874.1 L602.6,875.2 L601.7,876.3 L600.7,877.4 L599.6,878.5 L598.5,879.6 L597.3,880.7 L596.1,881.8 L594.8,882.9 L593.4,884.1 L591.9,885.2 L590.4,886.4 L588.8,887.6 L587.1,888.8 L585.3,890.1 L583.5,891.3 L581.6,892.5 L579.7,893.7 L577.7,894.9 L575.8,896.0 L573.8,897.1 L571.8,898.2 L569.8,899.3 L567.7,900.3 L565.6,901.3 L563.4,902.3 L561.3,903.2 L559.0,904.2 L556.8,905.1 L554.5,906.0 L552.2,906.9 L549.9,907.8 L547.5,908.6 L545.1,909.5 L542.7,910.3 L540.3,911.1 L537.8,911.9 L535.3,912.7 L532.7,913.4 L530.2,914.2 L527.6,914.9 L525.0,915.6 L522.4,916.3 L519.7,917.0 L517.0,917.6 L514.3,918.3 L511.6,919.0 L508.8,919.6 L506.0,920.3 L503.2,920.9 L500.3,921.5 L497.4,922.1 L494.5,922.7 L491.7,923.2 L488.8,923.8 L486.0,924.3 L483.3,924.7 L480.6,925.2 L477.9,925.5 L475.3,925.9 L472.8,926.2 L470.2,926.5 L467.7,926.7 L465.2,926.9 L462.7,927.1 L460.2,927.3 L457.7,927.5 L455.1,927.7 L452.5,927.9 L449.8,928.0 L447.0,928.2 L444.0,928.4 L440.8,928.5 L437.5,928.7 L434.2,928.8 L430.9,928.9 L427.8,929.0 L424.8,929.1 L422.1,929.2 L419.6,929.3 L417.5,929.4 L415.9,929.5Z" fill="#8f8f8f"/>


<path d="M212.0,623.0 L213.3,623.0 L215.1,623.0 L217.1,623.1 L219.4,623.1 L221.9,623.1 L224.5,623.2 L227.2,623.2 L229.9,623.2 L232.6,623.3 L235.2,623.3 L237.7,623.3 L240.0,623.3 L242.1,623.3 L244.1,623.3 L246.0,623.3 L247.9,623.3 L249.7,623.2 L251.6,623.2 L253.4,623.2 L255.3,623.1 L257.3,623.1 L259.4,623.0 L261.6,623.0 L263.9,622.9 L266.4,622.8 L269.1,622.7 L271.9,622.6 L274.8,622.5 L277.8,622.4 L280.8,622.3 L283.9,622.2 L286.9,622.1 L289.8,621.9 L292.6,621.7 L295.3,621.5 L297.7,621.3 L300.0,621.1 L302.1,620.8 L304.1,620.6 L306.0,620.3 L307.8,620.1 L309.6,619.8 L311.3,619.5 L313.1,619.1 L314.9,618.7 L316.7,618.2 L318.7,617.7 L320.7,617.1 L322.9,616.4 L325.2,615.6 L327.5,614.7 L329.9,613.7 L332.3,612.7 L334.7,611.7 L337.1,610.6 L339.4,609.6 L341.7,608.6 L343.9,607.7 L345.9,606.8 L347.8,606.0 L349.5,605.3 L351.2,604.6 L352.8,604.0 L354.3,603.4 L355.8,602.8 L357.2,602.3 L358.5,601.7 L359.8,601.2 L361.1,600.7 L362.3,600.2 L363.5,599.6 L364.7,599.1 L365.8,598.6 L366.9,598.1 L368.0,597.6 L369.0,597.1 L369.9,596.7 L370.8,596.2 L371.8,595.8 L372.6,595.3 L373.5,594.8 L374.4,594.3 L375.2,593.8 L376.1,593.3 L376.9,592.8 L377.8,592.3 L378.6,591.7 L379.4,591.2 L380.2,590.7 L381.0,590.1 L381.7,589.5 L382.5,588.9 L383.3,588.3 L384.0,587.6 L384.7,586.9 L385.5,586.2 L386.2,585.4 L386.8,584.6 L387.5,583.7 L388.2,582.9 L388.8,582.0 L389.4,581.1 L390.0,580.1 L390.6,579.2 L391.2,578.2 L391.7,577.3 L392.1,576.3 L392.6,575.3 L392.9,574.3 L393.3,573.3 L393.6,572.2 L393.8,571.2 L394.0,570.1 L394.2,569.1 L394.4,568.0 L394.5,567.0 L394.6,566.1 L394.7,565.2 L394.8,564.3 L394.8,563.5 L394.8,562.7 L394.8,562.0 L394.8,561.3 L394.7,560.6 L394.6,560.0 L394.5,559.4 L394.4,558.8 L394.2,558.2 L394.0,557.7 L393.7,557.1 L393.5,556.6 L393.1,556.1 L392.8,555.6 L392.4,555.2 L391.9,554.8 L391.5,554.4 L391.0,554.1 L390.5,553.8 L390.0,553.6 L389.5,553.3 L389.0,553.1 L388.5,553.0 L387.9,552.8 L387.4,552.7 L386.8,552.5 L386.2,552.4 L385.6,552.4 L385.0,552.3 L384.3,552.3 L383.7,552.3 L383.1,552.3 L382.5,552.4 L381.9,552.4 L381.3,552.4 L380.6,552.4 L380.0,552.4 L379.4,552.4 L378.7,552.4 L378.1,552.4 L377.4,552.4 L376.7,552.4 L376.1,552.5 L375.4,552.5 L374.7,552.5 L374.1,552.5 L373.4,552.5 L372.7,552.4 L372.1,552.4 L371.4,552.4 L370.7,552.3 L370.0,552.2 L369.2,552.1 L368.4,552.0 L367.7,551.9 L366.9,551.7 L366.2,551.6 L365.6,551.5 L365.0,551.4 L364.5,551.4 L364.1,551.3 L363.9,552.7 L364.3,552.8 L364.7,552.9 L365.3,553.0 L365.9,553.2 L366.6,553.4 L367.3,553.5 L368.1,553.7 L368.9,553.9 L369.7,554.0 L370.4,554.2 L371.2,554.3 L371.9,554.4 L372.6,554.5 L373.3,554.5 L374.0,554.6 L374.7,554.6 L375.4,554.6 L376.1,554.7 L376.7,554.7 L377.4,554.7 L378.1,554.7 L378.7,554.7 L379.3,554.8 L380.0,554.8 L380.6,554.8 L381.2,554.9 L381.9,554.9 L382.5,554.9 L383.1,554.9 L383.7,554.9 L384.2,555.0 L384.8,555.0 L385.3,555.1 L385.8,555.1 L386.2,555.2 L386.6,555.3 L387.1,555.5 L387.5,555.7 L387.9,555.8 L388.3,556.0 L388.7,556.2 L389.0,556.4 L389.3,556.6 L389.6,556.9 L389.9,557.1 L390.1,557.3 L390.3,557.6 L390.5,557.9 L390.6,558.2 L390.8,558.5 L390.9,558.8 L391.0,559.2 L391.1,559.6 L391.2,560.0 L391.2,560.4 L391.3,560.9 L391.3,561.5 L391.3,562.0 L391.2,562.6 L391.2,563.3 L391.1,564.0 L391.1,564.8 L391.0,565.7 L390.9,566.6 L390.7,567.5 L390.6,568.4 L390.4,569.4 L390.2,570.3 L389.9,571.3 L389.7,572.2 L389.4,573.0 L389.0,573.9 L388.7,574.7 L388.3,575.5 L387.8,576.4 L387.3,577.2 L386.8,578.1 L386.2,578.9 L385.6,579.7 L385.0,580.5 L384.4,581.3 L383.8,582.0 L383.2,582.8 L382.5,583.4 L381.9,584.1 L381.3,584.6 L380.6,585.2 L380.0,585.7 L379.3,586.3 L378.6,586.8 L377.9,587.3 L377.1,587.7 L376.3,588.2 L375.6,588.7 L374.7,589.2 L373.9,589.7 L373.1,590.2 L372.3,590.6 L371.5,591.1 L370.6,591.5 L369.8,591.9 L368.9,592.4 L368.0,592.8 L367.1,593.2 L366.1,593.7 L365.1,594.1 L364.0,594.6 L362.9,595.1 L361.8,595.6 L360.6,596.1 L359.4,596.6 L358.1,597.1 L356.8,597.6 L355.5,598.1 L354.1,598.6 L352.7,599.2 L351.1,599.8 L349.5,600.4 L347.8,601.1 L346.0,601.8 L344.1,602.6 L342.0,603.4 L339.8,604.4 L337.6,605.3 L335.2,606.4 L332.9,607.4 L330.5,608.4 L328.1,609.3 L325.8,610.2 L323.5,611.1 L321.4,611.9 L319.3,612.5 L317.4,613.1 L315.5,613.6 L313.8,614.0 L312.1,614.4 L310.4,614.7 L308.8,615.0 L307.1,615.2 L305.3,615.5 L303.5,615.7 L301.6,615.9 L299.5,616.1 L297.3,616.3 L294.8,616.5 L292.2,616.7 L289.5,616.9 L286.6,617.1 L283.6,617.2 L280.6,617.3 L277.6,617.4 L274.6,617.5 L271.7,617.6 L268.9,617.7 L266.2,617.8 L263.7,617.9 L261.4,618.0 L259.2,618.0 L257.2,618.1 L255.2,618.1 L253.3,618.2 L251.5,618.2 L249.7,618.2 L247.9,618.3 L246.0,618.3 L244.1,618.3 L242.1,618.3 L240.0,618.3 L237.7,618.3 L235.3,618.3 L232.7,618.3 L230.0,618.2 L227.2,618.2 L224.5,618.2 L221.9,618.1 L219.5,618.1 L217.2,618.1 L215.1,618.0 L213.4,618.0 L212.0,618.0Z" fill="#3fbe60"/>
<g><path d="M127.0,381.0 C191.9,381.0 245.0,436.4 245.0,513.0 C245.0,584.5 196.9,643.0 130.5,643.0 C85.2,643.0 49.6,587.1 49.6,516.0 C49.6,432.3 79.0,381.0 127.0,381.0 Z" fill="#5fd983" stroke="#5fd983" stroke-width="6.0" stroke-linejoin="round"/><path d="M208.0,260.0 C239.6,260.0 262.5,286.0 262.5,322.0 C262.5,360.2 236.2,391.5 204.0,391.5 C171.3,391.5 144.5,363.8 144.5,330.0 C144.5,290.8 172.4,260.0 208.0,260.0 Z" fill="#5fd983" stroke="#5fd983" stroke-width="6.0" stroke-linejoin="round"/><path d="M127.0,381.0 C191.9,381.0 245.0,436.4 245.0,513.0 C245.0,584.5 196.9,643.0 130.5,643.0 C85.2,643.0 49.6,587.1 49.6,516.0 C49.6,432.3 79.0,381.0 127.0,381.0 Z" fill="#80ffb2"/><path d="M208.0,260.0 C239.6,260.0 262.5,286.0 262.5,322.0 C262.5,360.2 236.2,391.5 204.0,391.5 C171.3,391.5 144.5,363.8 144.5,330.0 C144.5,290.8 172.4,260.0 208.0,260.0 Z" fill="#80ffb2"/><path d="M162,381 Q178,392 191,395" stroke="#a6ffc9" stroke-width="1.6" fill="none" opacity=".8"/></g>
<path d="M242.7,696.4 L244.0,696.6 L245.6,696.8 L247.5,697.0 L249.7,697.3 L252.0,697.6 L254.5,698.0 L257.0,698.3 L259.7,698.7 L262.3,699.0 L264.9,699.3 L267.4,699.6 L269.7,699.9 L272.0,700.1 L274.4,700.4 L276.7,700.6 L279.1,700.8 L281.5,701.1 L283.8,701.3 L286.2,701.5 L288.5,701.7 L290.8,701.9 L293.0,702.0 L295.2,702.2 L297.3,702.4 L299.4,702.6 L301.3,702.7 L303.3,702.9 L305.2,703.0 L307.0,703.2 L308.9,703.3 L310.7,703.4 L312.5,703.6 L314.4,703.7 L316.2,703.8 L318.0,703.8 L319.9,703.9 L321.8,703.9 L323.7,704.0 L325.6,704.0 L327.5,704.0 L329.4,704.0 L331.3,703.9 L333.2,703.9 L335.0,703.9 L336.9,703.9 L338.8,703.8 L340.6,703.8 L342.5,703.8 L344.4,703.8 L346.2,703.8 L348.1,703.8 L350.0,703.8 L351.9,703.8 L353.7,703.9 L355.6,703.9 L357.5,703.9 L359.4,703.8 L361.3,703.8 L363.2,703.8 L365.1,703.7 L367.0,703.6 L369.0,703.5 L371.1,703.4 L373.2,703.2 L375.2,703.1 L377.3,702.9 L379.3,702.7 L381.2,702.6 L383.0,702.4 L384.8,702.2 L386.3,702.0 L387.8,701.9 L389.1,701.7 L390.2,701.6 L391.2,701.4 L392.1,701.3 L392.9,701.1 L393.7,700.9 L394.4,700.8 L395.1,700.6 L395.7,700.4 L396.4,700.2 L397.0,700.0 L397.7,699.8 L398.5,699.6 L399.2,699.3 L399.9,699.1 L400.7,698.8 L401.4,698.5 L402.1,698.2 L402.8,697.9 L403.5,697.6 L404.2,697.2 L404.9,696.8 L405.6,696.4 L406.3,696.0 L407.0,695.5 L407.6,695.1 L408.3,694.6 L408.9,694.1 L409.5,693.5 L410.1,693.0 L410.6,692.4 L411.2,691.8 L411.8,691.2 L412.3,690.7 L412.8,690.1 L413.3,689.5 L413.7,688.9 L414.2,688.3 L414.6,687.7 L415.1,687.0 L415.5,686.4 L415.9,685.8 L416.3,685.1 L416.6,684.4 L417.0,683.7 L417.3,682.9 L417.7,682.2 L418.0,681.3 L418.4,680.5 L418.7,679.5 L419.1,678.6 L419.4,677.5 L419.7,676.5 L420.1,675.4 L420.4,674.3 L420.6,673.2 L420.9,672.2 L421.1,671.1 L421.2,670.1 L421.3,669.2 L421.3,668.2 L421.3,667.3 L421.2,666.5 L421.0,665.6 L420.9,664.8 L420.7,664.1 L420.4,663.4 L420.2,662.7 L419.9,662.1 L419.7,661.5 L419.4,660.9 L419.2,660.3 L418.9,659.7 L418.6,659.2 L418.3,658.7 L418.0,658.2 L417.7,657.8 L417.4,657.3 L417.1,656.9 L416.7,656.5 L416.4,656.1 L416.1,655.7 L415.7,655.3 L415.3,654.8 L414.9,654.3 L414.4,653.7 L413.9,653.1 L413.4,652.5 L412.9,651.9 L412.3,651.2 L411.8,650.6 L411.2,650.0 L410.7,649.3 L410.2,648.7 L409.6,648.1 L409.2,647.5 L408.7,647.0 L408.2,646.4 L407.8,645.9 L407.3,645.4 L406.9,644.9 L406.4,644.4 L406.0,643.9 L405.6,643.4 L405.2,642.9 L404.8,642.4 L404.4,641.8 L404.0,641.2 L403.6,640.6 L403.1,639.9 L402.7,639.2 L402.3,638.5 L401.9,637.8 L401.4,637.0 L401.0,636.3 L400.6,635.5 L400.2,634.7 L399.8,634.0 L399.5,633.2 L399.1,632.5 L398.8,631.8 L398.5,631.0 L398.2,630.3 L397.9,629.5 L397.6,628.8 L397.3,628.1 L397.1,627.3 L396.8,626.6 L396.6,625.9 L396.4,625.2 L396.2,624.5 L396.1,623.8 L395.9,623.1 L395.8,622.5 L395.7,621.8 L395.7,621.1 L395.6,620.5 L395.5,619.9 L395.5,619.2 L395.5,618.6 L395.5,618.0 L395.5,617.3 L395.5,616.7 L395.5,616.1 L395.6,615.4 L395.6,614.8 L395.7,614.2 L395.8,613.5 L395.9,612.9 L396.0,612.2 L396.1,611.6 L396.2,611.0 L396.3,610.4 L396.5,609.8 L396.6,609.3 L396.8,608.7 L396.9,608.3 L397.1,607.8 L397.2,607.3 L397.4,606.9 L397.6,606.5 L397.8,606.1 L398.0,605.7 L398.2,605.4 L398.4,605.0 L398.6,604.6 L398.9,604.3 L399.1,603.9 L399.4,603.5 L399.7,603.1 L400.1,602.8 L400.4,602.4 L400.8,602.0 L401.2,601.6 L401.6,601.2 L402.0,600.9 L402.3,600.5 L402.6,600.3 L402.9,600.0 L403.1,599.8 L402.5,599.2 L402.3,599.4 L402.0,599.6 L401.7,599.8 L401.3,600.1 L400.9,600.5 L400.5,600.8 L400.1,601.2 L399.6,601.5 L399.2,601.9 L398.8,602.3 L398.4,602.7 L398.1,603.1 L397.8,603.5 L397.5,603.9 L397.2,604.2 L397.0,604.6 L396.7,605.0 L396.5,605.4 L396.3,605.9 L396.0,606.3 L395.8,606.8 L395.6,607.2 L395.4,607.7 L395.2,608.3 L395.1,608.8 L394.9,609.4 L394.7,610.0 L394.5,610.6 L394.4,611.2 L394.3,611.9 L394.1,612.6 L394.0,613.2 L393.9,613.9 L393.8,614.6 L393.7,615.3 L393.7,615.9 L393.6,616.6 L393.6,617.3 L393.5,617.9 L393.5,618.6 L393.5,619.3 L393.5,619.9 L393.5,620.6 L393.6,621.3 L393.6,622.0 L393.7,622.8 L393.8,623.5 L393.9,624.2 L394.1,625.0 L394.2,625.7 L394.4,626.5 L394.6,627.3 L394.9,628.0 L395.1,628.8 L395.4,629.6 L395.6,630.4 L395.9,631.2 L396.2,631.9 L396.5,632.7 L396.9,633.5 L397.2,634.3 L397.5,635.1 L397.9,635.9 L398.3,636.7 L398.7,637.5 L399.1,638.3 L399.5,639.1 L399.9,639.9 L400.4,640.6 L400.8,641.4 L401.2,642.1 L401.6,642.8 L402.1,643.4 L402.5,644.0 L402.9,644.6 L403.4,645.2 L403.8,645.8 L404.2,646.3 L404.6,646.8 L405.1,647.3 L405.5,647.8 L406.0,648.4 L406.4,648.9 L406.8,649.5 L407.3,650.0 L407.8,650.7 L408.3,651.3 L408.8,651.9 L409.4,652.6 L409.9,653.2 L410.4,653.9 L410.9,654.5 L411.4,655.1 L411.9,655.7 L412.3,656.3 L412.7,656.8 L413.1,657.3 L413.4,657.8 L413.8,658.2 L414.1,658.6 L414.4,659.0 L414.6,659.4 L414.9,659.7 L415.1,660.1 L415.3,660.4 L415.5,660.8 L415.6,661.2 L415.8,661.7 L416.0,662.2 L416.3,662.8 L416.5,663.4 L416.7,664.0 L416.8,664.5 L417.0,665.1 L417.1,665.7 L417.2,666.3 L417.3,666.9 L417.4,667.5 L417.4,668.2 L417.3,668.8 L417.2,669.6 L417.1,670.4 L416.9,671.3 L416.6,672.2 L416.3,673.2 L416.0,674.2 L415.7,675.2 L415.4,676.1 L415.0,677.1 L414.7,678.0 L414.3,678.9 L414.0,679.7 L413.7,680.4 L413.3,681.1 L413.0,681.7 L412.7,682.3 L412.4,682.9 L412.0,683.4 L411.7,684.0 L411.3,684.5 L411.0,685.0 L410.6,685.5 L410.1,686.0 L409.7,686.5 L409.3,687.1 L408.8,687.6 L408.3,688.1 L407.9,688.6 L407.4,689.1 L406.9,689.5 L406.4,690.0 L405.8,690.4 L405.3,690.9 L404.8,691.3 L404.2,691.6 L403.7,692.0 L403.1,692.3 L402.6,692.7 L402.0,693.0 L401.5,693.2 L400.9,693.5 L400.3,693.8 L399.6,694.0 L399.0,694.3 L398.3,694.5 L397.7,694.8 L397.0,695.0 L396.3,695.2 L395.6,695.4 L394.9,695.6 L394.4,695.8 L393.8,696.0 L393.2,696.1 L392.6,696.3 L392.0,696.4 L391.3,696.5 L390.4,696.7 L389.5,696.8 L388.4,697.0 L387.2,697.1 L385.8,697.3 L384.3,697.4 L382.6,697.6 L380.7,697.8 L378.8,698.0 L376.9,698.1 L374.8,698.3 L372.8,698.4 L370.8,698.6 L368.8,698.7 L366.8,698.8 L364.9,698.9 L363.1,699.0 L361.2,699.0 L359.3,699.0 L357.5,699.1 L355.6,699.1 L353.8,699.1 L351.9,699.0 L350.0,699.0 L348.1,699.0 L346.3,699.0 L344.4,699.0 L342.5,699.0 L340.6,699.0 L338.7,699.0 L336.8,699.1 L335.0,699.1 L333.1,699.1 L331.2,699.2 L329.4,699.2 L327.5,699.2 L325.6,699.2 L323.8,699.2 L321.9,699.1 L320.1,699.1 L318.2,699.0 L316.4,699.0 L314.6,698.9 L312.8,698.8 L311.0,698.6 L309.2,698.5 L307.4,698.4 L305.6,698.2 L303.7,698.1 L301.7,697.9 L299.7,697.8 L297.7,697.6 L295.6,697.4 L293.4,697.3 L291.2,697.1 L288.9,696.9 L286.6,696.7 L284.2,696.5 L281.9,696.3 L279.5,696.1 L277.2,695.8 L274.9,695.6 L272.5,695.4 L270.3,695.1 L267.9,694.8 L265.4,694.6 L262.9,694.2 L260.3,693.9 L257.7,693.6 L255.1,693.2 L252.6,692.9 L250.3,692.6 L248.2,692.3 L246.3,692.0 L244.6,691.8 L243.3,691.6Z" fill="#d6a354"/>
<path d="M413.4,689.2 L413.6,688.9 L413.9,688.5 L414.2,688.0 L414.6,687.5 L415.0,686.9 L415.4,686.2 L415.9,685.5 L416.3,684.7 L416.8,683.9 L417.2,683.1 L417.7,682.2 L418.0,681.4 L418.4,680.5 L418.7,679.5 L419.1,678.6 L419.4,677.5 L419.7,676.5 L420.1,675.4 L420.4,674.3 L420.6,673.2 L420.9,672.2 L421.1,671.1 L421.2,670.1 L421.3,669.2 L421.3,668.2 L421.3,667.3 L421.2,666.5 L421.0,665.6 L420.9,664.8 L420.7,664.1 L420.4,663.4 L420.2,662.7 L419.9,662.1 L419.7,661.5 L419.4,660.9 L419.2,660.3 L418.9,659.7 L418.6,659.2 L418.3,658.7 L418.0,658.2 L417.7,657.8 L417.4,657.3 L417.1,656.9 L416.7,656.5 L416.4,656.1 L416.1,655.7 L415.7,655.3 L415.3,654.8 L414.9,654.3 L414.4,653.7 L413.9,653.1 L413.4,652.5 L412.9,651.9 L412.3,651.2 L411.8,650.6 L411.2,650.0 L410.7,649.3 L410.2,648.7 L409.6,648.1 L409.2,647.5 L408.7,647.0 L408.2,646.4 L407.8,645.9 L407.3,645.4 L406.9,644.9 L406.4,644.4 L406.0,643.9 L405.6,643.4 L405.2,642.9 L404.8,642.4 L404.4,641.8 L404.0,641.2 L403.6,640.6 L403.1,639.9 L402.7,639.2 L402.3,638.5 L401.9,637.8 L401.4,637.0 L401.0,636.3 L400.6,635.5 L400.2,634.7 L399.8,634.0 L399.5,633.2 L399.1,632.5 L398.8,631.8 L398.5,631.0 L398.2,630.3 L397.9,629.5 L397.6,628.8 L397.3,628.1 L397.1,627.3 L396.8,626.6 L396.6,625.9 L396.4,625.2 L396.2,624.5 L396.1,623.8 L395.9,623.1 L395.8,622.5 L395.7,621.8 L395.7,621.1 L395.6,620.5 L395.5,619.9 L395.5,619.2 L395.5,618.6 L395.5,618.0 L395.5,617.3 L395.5,616.7 L395.5,616.1 L395.6,615.4 L395.6,614.8 L395.7,614.2 L395.8,613.5 L395.9,612.9 L396.0,612.2 L396.1,611.6 L396.2,611.0 L396.3,610.4 L396.5,609.8 L396.6,609.3 L396.8,608.7 L396.9,608.3 L397.1,607.8 L397.2,607.3 L397.4,606.9 L397.6,606.5 L397.8,606.1 L398.0,605.7 L398.2,605.4 L398.4,605.0 L398.6,604.6 L398.9,604.3 L399.1,603.9 L399.4,603.5 L399.7,603.1 L400.1,602.8 L400.4,602.4 L400.8,602.0 L401.2,601.6 L401.6,601.2 L402.0,600.9 L402.3,600.5 L402.6,600.3 L402.9,600.0 L403.1,599.8 L402.5,599.2 L402.3,599.4 L402.0,599.6 L401.7,599.8 L401.3,600.1 L400.9,600.5 L400.5,600.8 L400.1,601.2 L399.6,601.5 L399.2,601.9 L398.8,602.3 L398.4,602.7 L398.1,603.1 L397.8,603.5 L397.5,603.9 L397.2,604.2 L397.0,604.6 L396.7,605.0 L396.5,605.4 L396.3,605.9 L396.0,606.3 L395.8,606.8 L395.6,607.2 L395.4,607.7 L395.2,608.3 L395.1,608.8 L394.9,609.4 L394.7,610.0 L394.5,610.6 L394.4,611.2 L394.3,611.9 L394.1,612.6 L394.0,613.2 L393.9,613.9 L393.8,614.6 L393.7,615.3 L393.7,615.9 L393.6,616.6 L393.6,617.3 L393.5,617.9 L393.5,618.6 L393.5,619.3 L393.5,619.9 L393.5,620.6 L393.6,621.3 L393.6,622.0 L393.7,622.8 L393.8,623.5 L393.9,624.2 L394.1,625.0 L394.2,625.7 L394.4,626.5 L394.6,627.3 L394.9,628.0 L395.1,628.8 L395.4,629.6 L395.6,630.4 L395.9,631.2 L396.2,631.9 L396.5,632.7 L396.9,633.5 L397.2,634.3 L397.5,635.1 L397.9,635.9 L398.3,636.7 L398.7,637.5 L399.1,638.3 L399.5,639.1 L399.9,639.9 L400.4,640.6 L400.8,641.4 L401.2,642.1 L401.6,642.8 L402.1,643.4 L402.5,644.0 L402.9,644.6 L403.4,645.2 L403.8,645.8 L404.2,646.3 L404.6,646.8 L405.1,647.3 L405.5,647.8 L406.0,648.4 L406.4,648.9 L406.8,649.5 L407.3,650.0 L407.8,650.7 L408.3,651.3 L408.8,651.9 L409.4,652.6 L409.9,653.2 L410.4,653.9 L410.9,654.5 L411.4,655.1 L411.9,655.7 L412.3,656.3 L412.7,656.8 L413.1,657.3 L413.4,657.8 L413.8,658.2 L414.1,658.6 L414.4,659.0 L414.6,659.4 L414.9,659.7 L415.1,660.1 L415.3,660.4 L415.5,660.8 L415.6,661.2 L415.8,661.7 L416.0,662.2 L416.3,662.8 L416.5,663.4 L416.7,664.0 L416.8,664.5 L417.0,665.1 L417.1,665.7 L417.2,666.3 L417.3,666.9 L417.4,667.5 L417.4,668.2 L417.3,668.8 L417.2,669.6 L417.1,670.4 L416.9,671.3 L416.6,672.2 L416.3,673.2 L416.0,674.2 L415.7,675.2 L415.4,676.1 L415.0,677.1 L414.7,678.0 L414.3,678.9 L414.0,679.6 L413.7,680.4 L413.3,681.0 L412.9,681.7 L412.5,682.4 L412.1,683.1 L411.7,683.7 L411.2,684.3 L410.8,684.9 L410.5,685.5 L410.1,685.9 L409.8,686.4 L409.6,686.8Z" fill="#a87a3a" opacity=".55"/>
<g><path d="M190.0,624.0 C219.1,624.0 242.0,653.0 242.0,690.0 C242.0,724.7 221.8,752.0 196.0,752.0 C165.2,752.0 141.0,723.0 141.0,686.0 C141.0,651.3 162.6,624.0 190.0,624.0 Z" fill="#dfa84e" stroke="#dfa84e" stroke-width="6.0" stroke-linejoin="round"/><path d="M190.0,624.0 C219.1,624.0 242.0,653.0 242.0,690.0 C242.0,724.7 221.8,752.0 196.0,752.0 C165.2,752.0 141.0,723.0 141.0,686.0 C141.0,651.3 162.6,624.0 190.0,624.0 Z" fill="#ffd878"/></g>
<!-- panel2 -->
<g><path d="M266.0,767.5 C296.2,767.5 320.0,791.5 320.0,822.0 C320.0,856.7 294.5,884.0 262.0,884.0 C236.5,884.0 216.5,858.5 216.5,826.0 C216.5,793.2 238.3,767.5 266.0,767.5 Z" fill="#8d8d8d" stroke="#8d8d8d" stroke-width="6.0" stroke-linejoin="round"/><path d="M335.0,856.5 C380.1,856.5 415.5,895.4 415.5,945.0 C415.5,999.6 376.6,1042.5 327.0,1042.5 C281.9,1042.5 246.5,1002.7 246.5,952.0 C246.5,898.5 285.4,856.5 335.0,856.5 Z" fill="#8d8d8d" stroke="#8d8d8d" stroke-width="6.0" stroke-linejoin="round"/><path d="M266.0,767.5 C296.2,767.5 320.0,791.5 320.0,822.0 C320.0,856.7 294.5,884.0 262.0,884.0 C236.5,884.0 216.5,858.5 216.5,826.0 C216.5,793.2 238.3,767.5 266.0,767.5 Z" fill="#c1c1c1"/><path d="M335.0,856.5 C380.1,856.5 415.5,895.4 415.5,945.0 C415.5,999.6 376.6,1042.5 327.0,1042.5 C281.9,1042.5 246.5,1002.7 246.5,952.0 C246.5,898.5 285.4,856.5 335.0,856.5 Z" fill="#c1c1c1"/></g>
<!-- panel3 -->
<g><path d="M320.0,1280.0 C351.7,1280.0 376.6,1305.5 376.6,1338.0 C376.6,1373.1 354.8,1396.5 322.0,1396.5 C297.6,1396.5 280.0,1377.8 280.0,1352.0 C280.0,1310.2 296.8,1280.0 320.0,1280.0 Z" fill="#5fd983" stroke="#5fd983" stroke-width="6.0" stroke-linejoin="round"/><path d="M380.0,1387.0 C437.1,1387.0 482.0,1430.1 482.0,1485.0 C482.0,1553.7 435.4,1603.5 376.0,1603.5 C331.9,1603.5 297.3,1558.8 297.3,1502.0 C297.3,1426.1 325.4,1387.0 380.0,1387.0 Z" fill="#5fd983" stroke="#5fd983" stroke-width="6.0" stroke-linejoin="round"/><path d="M328,1399 C338,1396 352,1390 362,1384 L366,1392 L334,1406 Z" fill="#5fd983" stroke="#5fd983" stroke-width="6.0" stroke-linejoin="round"/><path d="M320.0,1280.0 C351.7,1280.0 376.6,1305.5 376.6,1338.0 C376.6,1373.1 354.8,1396.5 322.0,1396.5 C297.6,1396.5 280.0,1377.8 280.0,1352.0 C280.0,1310.2 296.8,1280.0 320.0,1280.0 Z" fill="#80ffb2"/><path d="M380.0,1387.0 C437.1,1387.0 482.0,1430.1 482.0,1485.0 C482.0,1553.7 435.4,1603.5 376.0,1603.5 C331.9,1603.5 297.3,1558.8 297.3,1502.0 C297.3,1426.1 325.4,1387.0 380.0,1387.0 Z" fill="#80ffb2"/><path d="M328,1399 C338,1396 352,1390 362,1384 L366,1392 L334,1406 Z" fill="#80ffb2"/></g>
<g><path d="M455.0,1572.5 C494.1,1572.5 522.5,1600.8 522.5,1640.0 C522.5,1694.3 492.2,1730.5 462.0,1730.5 C424.8,1730.5 387.5,1694.3 387.5,1640.0 C387.5,1600.8 415.9,1572.5 455.0,1572.5 Z" fill="#dfa84e" stroke="#dfa84e" stroke-width="6.0" stroke-linejoin="round"/><path d="M455.0,1572.5 C494.1,1572.5 522.5,1600.8 522.5,1640.0 C522.5,1694.3 492.2,1730.5 462.0,1730.5 C424.8,1730.5 387.5,1694.3 387.5,1640.0 C387.5,1600.8 415.9,1572.5 455.0,1572.5 Z" fill="#ffd878"/></g>
<g id="text">
<text class="t tg" x="184.4" y="335.3" textLength="40.0" lengthAdjust="spacingAndGlyphs" font-size="18.5">Сэр!</text>
<text class="t tg" x="109.8" y="491.3" textLength="76.0" lengthAdjust="spacingAndGlyphs" font-size="18.5">Сколько</text>
<text class="t tg" x="126.4" y="516.6" textLength="46.3" lengthAdjust="spacingAndGlyphs" font-size="18.5">стоит</text>
<text class="t tg" x="85.3" y="542.0" textLength="126.0" lengthAdjust="spacingAndGlyphs" font-size="18.5">осьминожка?</text>
<text class="t tk" x="181.3" y="697.5" textLength="27.5" lengthAdjust="spacingAndGlyphs" font-size="18.5">Э?!</text>
<text class="t tk" x="243.5" y="835.5" textLength="61.5" lengthAdjust="spacingAndGlyphs" font-size="18.5">Э-эм…</text>
<text class="t tk" x="299.0" y="945.0" textLength="64.5" lengthAdjust="spacingAndGlyphs" font-size="18.5">Она не</text>
<text class="t tk" x="282.5" y="970.5" textLength="97.5" lengthAdjust="spacingAndGlyphs" font-size="18.5">продаётся</text>
<text class="t tg" x="311.0" y="1346.0" textLength="36.0" lengthAdjust="spacingAndGlyphs" font-size="18.5">Оу?</text>
<text class="t tg" x="368.0" y="1473.0" textLength="48.0" lengthAdjust="spacingAndGlyphs" font-size="18.5">А что</text>
<text class="t tg" x="332.8" y="1498.0" textLength="117.2" lengthAdjust="spacingAndGlyphs" font-size="18.5">насчёт всего</text>
<text class="t tg" x="324.0" y="1524.0" textLength="136.8" lengthAdjust="spacingAndGlyphs" font-size="18.5">океанариума?</text>
<text class="t tk" x="406.6" y="1662.4" textLength="102.0" lengthAdjust="spacingAndGlyphs" font-size="18.5">СЕНПАЙ?!!</text>
</g>
</svg>
</body></html>
